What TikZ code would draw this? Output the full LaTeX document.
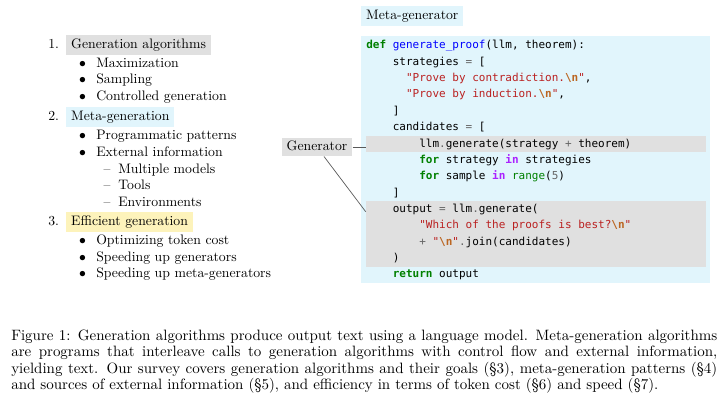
\documentclass[tikz,border=0pt]{standalone}
\usepackage{fontspec}
\usepackage{xcolor}
\usepackage{tikz}
\usetikzlibrary{positioning,calc,fit}
\newfontfamily\codefont{DejaVu Sans Mono}

\definecolor{hlgray}{RGB}{224,224,224}
\definecolor{hlblue}{RGB}{225,245,252}
\definecolor{hlyellow}{RGB}{253,243,187}
\definecolor{kwgreen}{RGB}{0,128,0}
\definecolor{fnblue}{RGB}{0,0,255}
\definecolor{strred}{RGB}{186,33,33}
\definecolor{escbrown}{RGB}{187,102,34}
\definecolor{inpurple}{RGB}{170,34,255}
\definecolor{opgray}{RGB}{102,102,102}

\newcommand{\pykw}[1]{\textcolor{kwgreen}{\bfseries #1}}
\newcommand{\pyfn}[1]{\textcolor{fnblue}{#1}}
\newcommand{\pystr}[1]{\textcolor{strred}{#1}}
\newcommand{\pynl}{\textcolor{escbrown}{\bfseries\textbackslash n}}
\newcommand{\pyop}[1]{\textcolor{opgray}{#1}}
\newcommand{\pyin}{\textcolor{inpurple}{\bfseries in}}
\newcommand{\pybi}[1]{\textcolor{kwgreen}{#1}}

\tikzset{every node/.style={font=\fontsize{10}{12}\selectfont}}

\begin{document}
\begin{tikzpicture}[x=0.727pt, y=-0.727pt,
  hl/.style={fill=#1, anchor=base west, inner xsep=3.6pt, inner ysep=2.5pt, text height=7pt, text depth=2.5pt},
  item/.style={anchor=base west, inner sep=0pt},
  bul/.style={anchor=base, inner sep=0pt},
  codeline/.style={anchor=base west, inner sep=0pt, font=\codefont\fontsize{8}{10}\selectfont},
  band/.style={fill=hlgray, inner sep=0pt},
  link/.style={draw=black!65, line width=0.5pt}]

\path[fill=white, use as bounding box] (0,0) rectangle (720,401);

% outline on the left
\node[item] (n1) at (48,48.5) {1.};
\node[hl=hlgray] (h1) at (66,48.5) {Generation algorithms};
\node[bul] (b11) at (82.5,67) {$\bullet$};
\node[item] (i11) at (96,67) {Maximization};
\node[bul] (b12) at (82.5,83.5) {$\bullet$};
\node[item] (i12) at (96,83.5) {Sampling};
\node[bul] (b13) at (82.5,100) {$\bullet$};
\node[item] (i13) at (96,100) {Controlled generation};

\node[item] (n2) at (48,120) {2.};
\node[hl=hlblue] (h2) at (66,120) {Meta-generation};
\node[bul] (b21) at (82.5,139.5) {$\bullet$};
\node[item] (i21) at (96,139.5) {Programmatic patterns};
\node[bul] (b22) at (82.5,156) {$\bullet$};
\node[item] (i22) at (96,156) {External information};
\node[bul] (d1) at (107,173) {\textendash};
\node[item] (s1) at (118,173) {Multiple models};
\node[bul] (d2) at (107,189.5) {\textendash};
\node[item] (s2) at (118,189.5) {Tools};
\node[bul] (d3) at (107,206) {\textendash};
\node[item] (s3) at (118,206) {Environments};

\node[item] (n3) at (48,225) {3.};
\node[hl=hlyellow] (h3) at (66,225) {Efficient generation};
\node[bul] (b31) at (82.5,244.5) {$\bullet$};
\node[item] (i31) at (96,244.5) {Optimizing token cost};
\node[bul] (b32) at (82.5,261) {$\bullet$};
\node[item] (i32) at (96,261) {Speeding up generators};
\node[bul] (b33) at (82.5,277.5) {$\bullet$};
\node[item] (i33) at (96,277.5) {Speeding up meta-generators};

% meta-generator code
\node[fill=hlblue, anchor=north west, inner xsep=3.6pt, inner ysep=2.5pt, text height=7pt, text depth=2.5pt] (meta) at (361,6) {Meta-generator};
\node[fill=hlblue, inner sep=0pt, fit={(361,36) (710,283)}] (codebox) {};
\node[band, fit={(366,136) (706,152)}] (band1) {};
\node[band, fit={(366,201) (706,267)}] (band2) {};

\node[codeline] (c1) at (366,48.8) {\pykw{def} \pyfn{generate\_proof}(llm, theorem):};
\node[codeline] (c2) at (392.5,65.2) {strategies \pyop{=} [};
\node[codeline] (c3) at (405.75,81.5) {\pystr{"Prove by contradiction.\pynl"},};
\node[codeline] (c4) at (405.75,97.9) {\pystr{"Prove by induction.\pynl"},};
\node[codeline] (c5) at (392.5,114.2) {]};
\node[codeline] (c6) at (392.5,130.6) {candidates \pyop{=} [};
\node[codeline] (c7) at (419,147) {llm\pyop{.}generate(strategy \pyop{+} theorem)};
\node[codeline] (c8) at (419,163.3) {\pykw{for} strategy \pyin{} strategies};
\node[codeline] (c9) at (419,179.7) {\pykw{for} sample \pyin{} \pybi{range}(\pyop{5})};
\node[codeline] (c10) at (392.5,196) {]};
\node[codeline] (c11) at (392.5,212.4) {output \pyop{=} llm\pyop{.}generate(};
\node[codeline] (c12) at (419,228.8) {\pystr{"Which of the proofs is best?\pynl"}};
\node[codeline] (c13) at (419,245.1) {\pyop{+} \pystr{"\pynl"}\pyop{.}join(candidates)};
\node[codeline] (c14) at (392.5,261.5) {)};
\node[codeline] (c15) at (392.5,277.8) {\pykw{return} output};

% generator tag
\node[fill=hlgray, inner xsep=3.6pt, inner ysep=2.2pt, text height=7pt, text depth=2pt] (gen) at (317,147) {Generator};
\draw[link] (gen.east) -- (gen.east -| band1.west);
\draw[link] ($(gen.south)+(7,0)$) -- ($(band2.north west)+(0,11)$);

% caption
\node[anchor=north west, inner sep=0pt, text width=513.3pt, align=justify, font=\fontsize{10.9}{12}\selectfont] (caption) at (11,329.5)
{Figure 1: Generation algorithms produce output text using a language model. Meta-generation algorithms\linebreak
are programs that interleave calls to generation algorithms with control flow and external information,\linebreak
yielding text. Our survey covers generation algorithms and their goals (\S3), meta-generation patterns (\S4)\linebreak
and sources of external information (\S5), and efficiency in terms of token cost (\S6) and speed (\S7).};

\end{tikzpicture}
\end{document}
